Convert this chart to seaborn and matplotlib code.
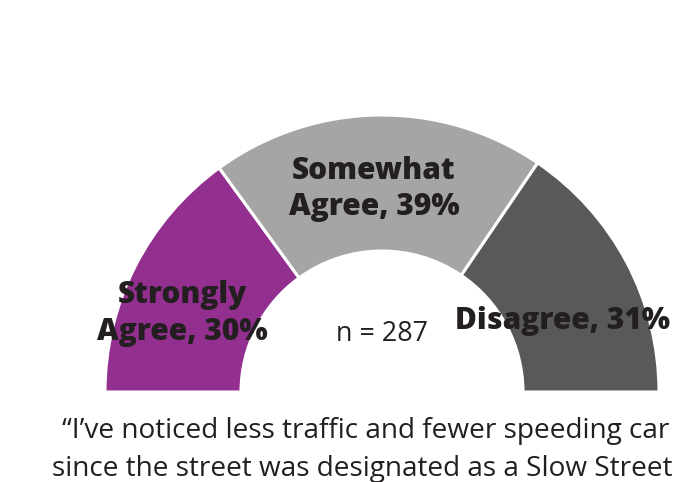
import matplotlib
matplotlib.use("Agg")
import matplotlib.pyplot as plt
import seaborn as sns

# ---- data ----
categories = ["Strongly Agree", "Somewhat Agree", "Disagree"]
percents = [30, 39, 31]
label_lines = [["Strongly", "Agree, 30%"], ["Somewhat", "Agree, 39%"], ["Disagree, 31%"]]
colors = ["#922F8F", "#A5A5A5", "#595959"]
n_text = "n = 287"
caption_lines = ["\u201cI\u2019ve noticed less traffic and fewer speeding car",
                 "since the street was designated as a Slow Street"]

sns.set_theme(style="white")
plt.rcParams["font.family"] = ["Open Sans", "DejaVu Sans"]

W, H = 676, 482
fig = plt.figure(figsize=(W / 100, H / 100), dpi=100)
ax = fig.add_axes([0, 0, 1, 1])

cx, cy = 382, H - 392
r_out, r_in = 277, 141

vals = percents + [sum(percents)]  # hidden lower half
cols = colors + ["none"]
wedges, _ = ax.pie(vals, colors=cols, startangle=180, counterclock=False,
                   radius=r_out, center=(cx, cy),
                   wedgeprops=dict(width=r_out - r_in, edgecolor="white", linewidth=2.2))
wedges[-1].set_edgecolor("none")
ax.set_xlim(0, W)
ax.set_ylim(0, H)
ax.set_aspect("equal")
ax.axis("off")

txt_col = "#231F20"
# label positions (pixel x, list of baselines)
label_pos = [(182, [303, 340]), (374, [179, 215]), (563, [329])]
for lines, (x, ys) in zip(label_lines, label_pos):
    for line, yb in zip(lines, ys):
        ax.text(x, H - yb, line, ha="center", va="baseline", fontsize=21.5,
                fontweight=800, color=txt_col)

ax.text(382, H - 341, n_text, ha="center", va="baseline", fontsize=19.4, color=txt_col)

ax.text(62, H - 438, caption_lines[0], ha="left", va="baseline", fontsize=20.2, color=txt_col)
ax.text(52, H - 476, caption_lines[1], ha="left", va="baseline", fontsize=20.2, color=txt_col)

fig.savefig("out.png", dpi=100, facecolor="white")
